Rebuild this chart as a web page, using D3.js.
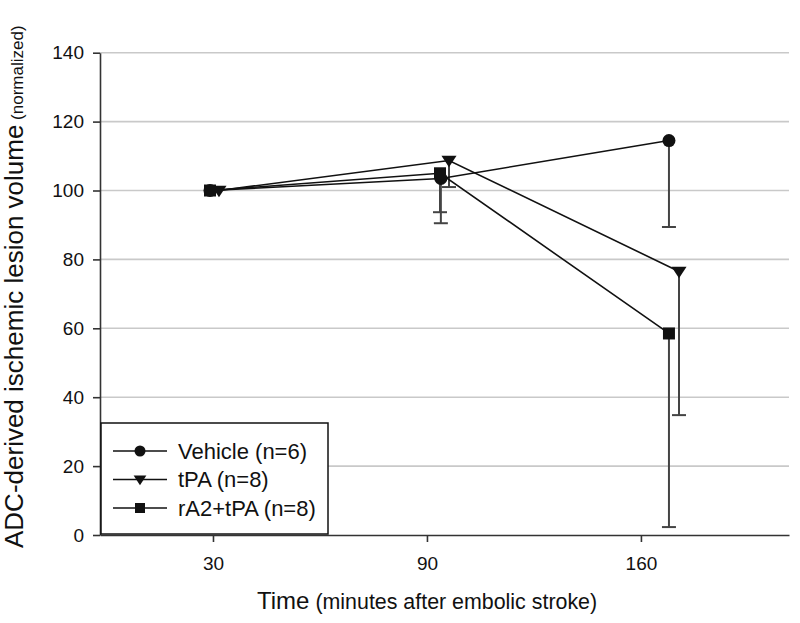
<!DOCTYPE html>
<html>
<head>
<meta charset="utf-8">
<script src="https://cdn.jsdelivr.net/npm/d3@7/dist/d3.min.js"></script>
<style>
  html, body { margin: 0; padding: 0; background: #fff; }
  svg { display: block; font-family: "Liberation Sans", Arial, sans-serif; }
</style>
</head>
<body>
<svg id="chart" width="800" height="623"></svg>
<script>
// ---- data ----
const categories = ["30", "90", "160"];
const yTicks = [0, 20, 40, 60, 80, 100, 120, 140];
const seriesNames = ["Vehicle (n=6)", "tPA (n=8)", "rA2+tPA (n=8)"];
const seriesShapes = ["circle", "triangle", "square"];
// x positions in category-index units (markers sit slightly offset from the ticks)
const vehicleX = [-0.014, 1.065, 2.131];
const vehicleY = [100, 103.5, 114.5];
const vehicleLow = [null, 90.5, 89.4];
const tpaX = [0.028, 1.103, 2.178];
const tpaY = [100, 108.7, 76.5];
const tpaLow = [null, 101, 34.8];
const raX = [-0.014, 1.061, 2.131];
const raY = [100, 105, 58.5];
const raLow = [null, 93.7, 2.3];

const series = [
  { name: seriesNames[0], shape: seriesShapes[0], xs: vehicleX, ys: vehicleY, lows: vehicleLow },
  { name: seriesNames[1], shape: seriesShapes[1], xs: tpaX, ys: tpaY, lows: tpaLow },
  { name: seriesNames[2], shape: seriesShapes[2], xs: raX, ys: raY, lows: raLow }
];

(function () {
// ---- layout ----
const svg = d3.select("#chart");
const pLeft = 100, pRight = 789, pTop = 52.7, pBottom = 535;
const x = d3.scaleLinear().domain([-0.528, 2.692]).range([pLeft, pRight]);
const y = d3.scaleLinear().domain([0, 140]).range([pBottom, pTop]);

function markerPath(shape, s) {
  if (shape === "circle") {
    const r = s / 2;
    return `M${-r},0A${r},${r} 0 1,0 ${r},0A${r},${r} 0 1,0 ${-r},0Z`;
  } else if (shape === "square") {
    const h = s / 2 - 0.5;
    return `M${-h},${-h}H${h}V${h}H${-h}Z`;
  } else {
    const w = s * 0.58, hTop = s * 0.36, hBot = s * 0.52;
    return `M${-w},${-hTop}H${w}L0,${hBot}Z`;
  }
}

// gridlines
svg.append("g").selectAll("line")
  .data(yTicks.filter(d => d > 0))
  .join("line")
  .attr("x1", pLeft).attr("x2", pRight)
  .attr("y1", d => y(d)).attr("y2", d => y(d))
  .attr("stroke", "#c9c9c9").attr("stroke-width", 1.6);

// axes
const yAxis = svg.append("g").attr("transform", `translate(${pLeft},0)`)
  .call(d3.axisLeft(y).tickValues(yTicks).tickSize(7).tickSizeOuter(0).tickPadding(9));
const xAxis = svg.append("g").attr("transform", `translate(0,${pBottom})`)
  .call(d3.axisBottom(x).tickValues([0, 1, 2]).tickFormat(i => categories[i])
    .tickSize(7).tickSizeOuter(0).tickPadding(15));
[yAxis, xAxis].forEach(a => {
  a.select(".domain").attr("stroke", "#333").attr("stroke-width", 1.6);
  a.selectAll(".tick line").attr("stroke", "#333").attr("stroke-width", 1.6);
  a.selectAll(".tick text").attr("fill", "#111")
    .style("font-family", "'Liberation Sans', Arial, sans-serif").style("font-size", "19px");
});

// error bars (downward)
series.forEach(s => {
  const g = svg.append("g");
  s.ys.forEach((v, i) => {
    const lo = s.lows[i];
    if (lo == null) return;
    const cx = x(s.xs[i]);
    g.append("line").attr("x1", cx).attr("x2", cx).attr("y1", y(v)).attr("y2", y(lo))
      .attr("stroke", "#444").attr("stroke-width", 2);
    g.append("line").attr("x1", cx - 7).attr("x2", cx + 7).attr("y1", y(lo)).attr("y2", y(lo))
      .attr("stroke", "#444").attr("stroke-width", 2);
  });
});

// lines
const line = d3.line().x(d => x(d[0])).y(d => y(d[1]));
series.forEach(s => {
  svg.append("path")
    .attr("d", line(s.xs.map((xx, i) => [xx, s.ys[i]])))
    .attr("fill", "none").attr("stroke", "#111").attr("stroke-width", 1.6);
});

// markers
series.forEach(s => {
  svg.append("g").selectAll("path")
    .data(s.xs.map((xx, i) => [xx, s.ys[i]]))
    .join("path")
    .attr("transform", d => `translate(${x(d[0])},${y(d[1])})`)
    .attr("d", markerPath(s.shape, 13))
    .attr("fill", "#111");
});

// legend
const lg = svg.append("g");
lg.append("rect").attr("x", 101).attr("y", 423).attr("width", 227).attr("height", 111)
  .attr("fill", "#fff").attr("stroke", "#111").attr("stroke-width", 1.5);
const rowY = d3.scalePoint().domain(seriesNames).range([451, 508]);
series.forEach(s => {
  const ry = rowY(s.name);
  lg.append("line").attr("x1", 113).attr("x2", 167).attr("y1", ry).attr("y2", ry)
    .attr("stroke", "#111").attr("stroke-width", 1.6);
  lg.append("path").attr("transform", `translate(140,${ry})`)
    .attr("d", markerPath(s.shape, 11)).attr("fill", "#111");
  lg.append("text").attr("x", 178).attr("y", ry).attr("dy", "0.36em")
    .attr("fill", "#111").style("font-size", "22px").text(s.name);
});

// axis titles
const yt = svg.append("text").attr("transform", "translate(23,548) rotate(-90)")
  .attr("text-anchor", "start").attr("fill", "#111");
yt.append("tspan").style("font-size", "26px").text("ADC-derived ischemic lesion volume");
yt.append("tspan").style("font-size", "17px").text(" (normalized)");

const xt = svg.append("text").attr("x", 257).attr("y", 609)
  .attr("text-anchor", "start").attr("fill", "#111");
xt.append("tspan").style("font-size", "24px").text("Time");
xt.append("tspan").style("font-size", "21.4px").text(" (minutes after embolic stroke)");
})();
</script>
</body>
</html>
